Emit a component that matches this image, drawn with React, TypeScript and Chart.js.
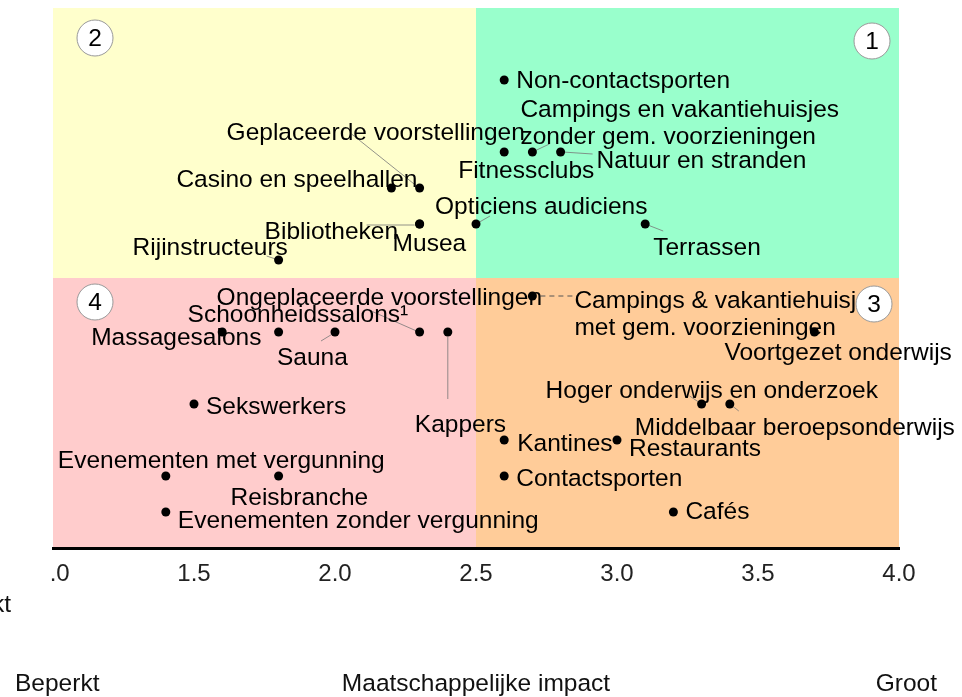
import React, { useEffect, useRef } from "react";
import { Chart, registerables } from "chart.js";

Chart.register(...registerables);

const FONT = '"Liberation Sans", Arial, Helvetica, sans-serif';
const FSIZE = 24.5;

// ---- data ----
const sectors = [
  "Non-contactsporten",
  "Fitnessclubs",
  "Campings en vakantiehuisjes\nzonder gem. voorzieningen",
  "Natuur en stranden",
  "Casino en speelhallen",
  "Geplaceerde voorstellingen",
  "Bibliotheken",
  "Musea",
  "Opticiens audiciens",
  "Terrassen",
  "Rijinstructeurs",
  "Campings & vakantiehuisjes\nmet gem. voorzieningen",
  "Ongeplaceerde voorstellingen",
  "Voortgezet onderwijs",
  "Massagesalons",
  "Schoonheidssalons¹",
  "Sauna",
  "Kappers",
  "Sekswerkers",
  "Hoger onderwijs en onderzoek",
  "Middelbaar beroepsonderwijs",
  "Kantines",
  "Restaurants",
  "Contactsporten",
  "Evenementen met vergunning",
  "Reisbranche",
  "Evenementen zonder vergunning",
  "Cafés",
];
const impactX = [2.6, 2.6, 2.7, 2.8, 2.2, 2.3, 2.3, 2.3, 2.5, 3.1, 1.8, 2.7, 2.3, 3.7, 1.6, 1.8, 2.0, 2.4, 1.5, 3.3, 3.4, 2.6, 3.0, 2.6, 1.4, 1.8, 1.4, 3.2];
const impactY = [3.6, 3.2, 3.2, 3.2, 3.0, 3.0, 2.8, 2.8, 2.8, 2.8, 2.6, 2.4, 2.2, 2.2, 2.2, 2.2, 2.2, 2.2, 1.8, 1.8, 1.8, 1.6, 1.6, 1.4, 1.4, 1.4, 1.2, 1.2];

const xTicks = [1, 1.5, 2, 2.5, 3, 3.5, 4];
const xTickLabels = ["  .0", "1.5", "2.0", "2.5", "3.0", "3.5", "4.0"];
const quadrantNumbers = ["1", "2", "3", "4"];
const axisTitle = "Maatschappelijke impact";
const axisLow = "Beperkt";
const axisHigh = "Groot";
const midValue = 2.5;

// ---- label layout (offsets from each point, in px) ----
type Lay = { dx: number; dy: number; leader?: number[]; dashed?: boolean };
const labelLayout: Lay[] = [
  { dx: 12, dy: 1 },
  { dx: -46, dy: 19 },
  { dx: -12, dy: -42, leader: [0, 0, 17, -8] },
  { dx: 36, dy: 9, leader: [2, 0, 32, 2] },
  { dx: -215, dy: -8 },
  { dx: -193, dy: -55, leader: [-3, -2, -68, -54] },
  { dx: -155, dy: 8, leader: [-5, 1, -53, 1] },
  { dx: -27, dy: 20 },
  { dx: -41, dy: -17, leader: [0, 0, 14, -8] },
  { dx: 8, dy: 24, leader: [0, 0, 18, 7] },
  { dx: -146, dy: -12, leader: [-12, -4, 0, 0] },
  { dx: 42, dy: 5, leader: [8, 0, 40, 0], dashed: true },
  { dx: -203, dy: -34, leader: [-3, -1, -53, -23] },
  { dx: -90, dy: 21 },
  { dx: -131, dy: 6 },
  { dx: -91, dy: -17 },
  { dx: -58, dy: 26, leader: [-1, 1, -14, 9] },
  { dx: -33, dy: 93, leader: [0, 5, 0, 67] },
  { dx: 12, dy: 3 },
  { dx: -156, dy: -13, leader: [-12, -8, 0, 0] },
  { dx: -95, dy: 24, leader: [0, 0, 9, 7] },
  { dx: 13, dy: 4 },
  { dx: 12, dy: 9 },
  { dx: 12, dy: 3 },
  { dx: -108, dy: -15 },
  { dx: -48, dy: 22 },
  { dx: 12, dy: 9 },
  { dx: 12, dy: 0 },
];

const quadrantPlugin = {
  id: "quadrants",
  beforeDraw(chart: any) {
    const { ctx, chartArea: a, scales } = chart;
    const mx = scales.x.getPixelForValue(midValue);
    const my = scales.y.getPixelForValue(midValue);
    ctx.save();
    ctx.fillStyle = "#ffffcc";
    ctx.fillRect(a.left, a.top, mx - a.left, my - a.top);
    ctx.fillStyle = "#99ffcc";
    ctx.fillRect(mx, a.top, a.right - mx, my - a.top);
    ctx.fillStyle = "#ffcccc";
    ctx.fillRect(a.left, my, mx - a.left, a.bottom - my);
    ctx.fillStyle = "#ffcc99";
    ctx.fillRect(mx, my, a.right - mx, a.bottom - my);
    ctx.restore();
  },
  beforeDatasetsDraw(chart: any) {
    const { ctx, chartArea: a, scales } = chart;
    const meta = chart.getDatasetMeta(0);
    ctx.save();
    meta.data.forEach((el: any, i: number) => {
      const l = labelLayout[i];
      if (!l || !l.leader) return;
      ctx.beginPath();
      ctx.strokeStyle = l.dashed ? "#555" : "#777";
      ctx.lineWidth = l.dashed ? 1 : 0.8;
      ctx.setLineDash(l.dashed ? [5, 4] : []);
      ctx.moveTo(el.x + l.leader[0], el.y + l.leader[1]);
      ctx.lineTo(el.x + l.leader[2], el.y + l.leader[3]);
      ctx.stroke();
    });
    ctx.setLineDash([]);
    ctx.font = `${FSIZE}px ${FONT}`;
    ctx.fillStyle = "#000";
    ctx.textAlign = "left";
    ctx.textBaseline = "middle";
    meta.data.forEach((el: any, i: number) => {
      const l = labelLayout[i];
      const lines = sectors[i].split("\n");
      lines.forEach((t, k) => {
        ctx.fillText(t, el.x + l.dx, el.y + l.dy + k * 27);
      });
    });
    const my = scales.y.getPixelForValue(midValue);
    const circles = [
      [a.right - 27, a.top + 33],
      [a.left + 42, a.top + 30],
      [a.right - 25, my + 26],
      [a.left + 42, my + 24],
    ];
    circles.forEach(([cx, cy], i) => {
      ctx.beginPath();
      ctx.arc(cx, cy, 18, 0, Math.PI * 2);
      ctx.fillStyle = "#ffffff";
      ctx.fill();
      ctx.strokeStyle = "#999";
      ctx.lineWidth = 1;
      ctx.stroke();
      ctx.fillStyle = "#000";
      ctx.textAlign = "center";
      ctx.fillText(quadrantNumbers[i], cx, cy + 1);
    });
    ctx.restore();
  },
  afterDraw(chart: any) {
    const { ctx, chartArea: a } = chart;
    ctx.save();
    ctx.font = `${FSIZE}px ${FONT}`;
    ctx.fillStyle = "#111";
    ctx.textBaseline = "alphabetic";
    ctx.textAlign = "left";
    ctx.fillText(axisLow, 15, 691);
    ctx.textAlign = "center";
    ctx.fillText(axisTitle, (a.left + a.right) / 2, 691);
    ctx.textAlign = "right";
    ctx.fillText(axisHigh, a.right + 38, 691);
    ctx.fillText(axisLow, 11, 612);
    ctx.restore();
  },
};

export default function App() {
  const ref = useRef<HTMLCanvasElement | null>(null);
  useEffect(() => {
    if (!ref.current) return;
    const points = impactX.map((x, i) => ({ x, y: impactY[i] }));
    const chart = new Chart(ref.current, {
      type: "scatter",
      data: {
        datasets: [
          {
            data: points,
            pointRadius: 4.5,
            pointHoverRadius: 4.5,
            pointBackgroundColor: "#000",
            pointBorderWidth: 0,
          },
        ],
      },
      options: {
        responsive: false,
        animation: false,
        devicePixelRatio: 1,
        events: [],
        layout: { padding: { left: 53, right: 63, top: 8, bottom: 89 } },
        plugins: { legend: { display: false }, tooltip: { enabled: false } },
        scales: {
          x: {
            type: "linear",
            min: 1,
            max: 4,
            grid: { display: false, drawTicks: false },
            border: { display: true, color: "#000", width: 3 },
            afterBuildTicks: (scale: any) => {
              scale.ticks = xTicks.map((v) => ({ value: v }));
            },
            afterFit: (scale: any) => {
              scale.height = 60;
            },
            ticks: {
              autoSkip: false,
              maxRotation: 0,
              padding: 12,
              color: "#222",
              font: { family: FONT, size: 24 },
              callback: (_v: any, i: number) => xTickLabels[i],
            },
          },
          y: { type: "linear", min: 1, max: 4, display: false },
        },
      },
      plugins: [quadrantPlugin],
    });
    return () => chart.destroy();
  }, []);
  return (
    <canvas
      ref={ref}
      width={962}
      height={697}
      style={{ position: "absolute", left: 0, top: 0, width: 962, height: 697 }}
    />
  );
}
